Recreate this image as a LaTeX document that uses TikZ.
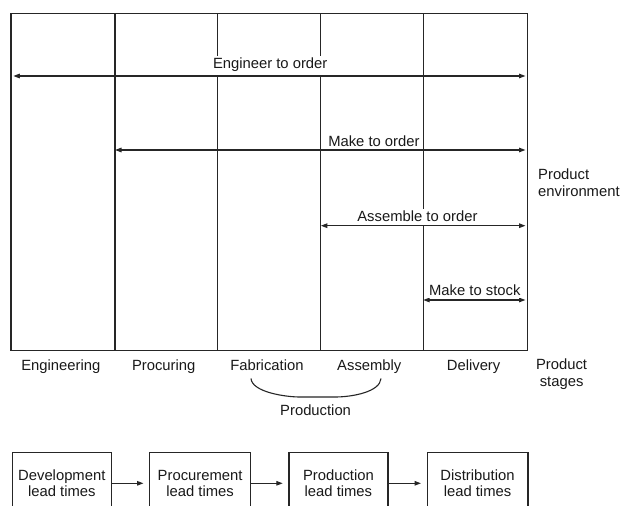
\documentclass[tikz,border=0pt]{standalone}
\usepackage{fontspec}
\setmainfont{Liberation Sans}
\usetikzlibrary{arrows.meta}
\begin{document}
\begin{tikzpicture}[x=1bp,y=-1bp,
  frame/.style={draw=black!85, line width=1.2bp},
  tip/.tip={Triangle[length=6.5bp,width=4.5bp]},
  span/.style={draw=black!85, line width=1.3bp, tip-tip},
  lbl/.style={font=\fontsize{14.8bp}{16.6bp}\selectfont, text=black!90, inner sep=0pt},
  spanlbl/.style={lbl, fill=white, inner xsep=1.5bp, inner ysep=2.5bp, anchor=base},
  stagelbl/.style={lbl, anchor=base},
  ltbox/.style={draw=black!85, line width=1.2bp, lbl, minimum height=62bp,
                align=center, anchor=north west},
  flow/.style={draw=black!85, line width=1.2bp, -tip, shorten >=5.5bp}]
\clip (0,0) rectangle (624,506);
\fill[white] (0,0) rectangle (624,506);

% stage columns
\foreach \n/\x in {0/11,1/115,2/217.3,3/320.8,4/423.2,5/527.3} {
  \coordinate (t\n) at (\x,13.5);
  \coordinate (b\n) at (\x,350.7);
}
\draw[frame] (t0) rectangle (b5);
\foreach \n in {1,...,4} \draw[frame] (t\n) -- (b\n);

% product environments
\coordinate (eto-a) at (13.3,76);   \coordinate (eto-b) at (525.5,76);
\coordinate (mto-a) at (115,150);   \coordinate (mto-b) at (525.5,150);
\coordinate (ato-a) at (320.8,225.7); \coordinate (ato-b) at (525.5,225.7);
\coordinate (mts-a) at (423.2,300); \coordinate (mts-b) at (525.5,300);
\draw[span] (eto-a) -- (eto-b);
\draw[span] (mto-a) -- (mto-b);
\draw[span] (ato-a) -- (ato-b);
\draw[span] (mts-a) -- (mts-b);
\node[spanlbl] (eto) at (270.2,69) {Engineer to order};
\node[spanlbl] (mto) at (373.9,146.5) {Make to order};
\node[spanlbl] (ato) at (417.4,222) {Assemble to order};
\node[spanlbl] (mts) at (474.8,295) {Make to stock};
\node[lbl, align=left, anchor=west] (env) at (538,182.8) {Product\\environment};

% product stages
\node[stagelbl] (s1) at (60.8,370) {Engineering};
\node[stagelbl] (s2) at (163.7,370) {Procuring};
\node[stagelbl] (s3) at (266.9,370) {Fabrication};
\node[stagelbl] (s4) at (369.3,370) {Assembly};
\node[stagelbl] (s5) at (473.6,370) {Delivery};
\node[lbl, align=center] (stg) at (561.6,374) {Product\\stages};

% production brace
\coordinate (brL) at (251,378.5);
\coordinate (brR) at (381,378.5);
\draw[frame, line width=1.1bp] (brL) .. controls (252,392) and (285,397) .. (300,397)
  -- (335,397) .. controls (352,397) and (380,392) .. (brR);
\node[stagelbl] (prod) at (315.6,415) {Production};

% lead times
\node[ltbox, minimum width=99bp]  (dev)  at (11.7,451.7)  {Development\\lead times};
\node[ltbox, minimum width=101bp] (proc) at (149,451.7)   {Procurement\\lead times};
\node[ltbox, minimum width=99bp]  (pro)  at (288.3,451.7) {Production\\lead times};
\node[ltbox, minimum width=100.8bp] (dis) at (426.5,451.7) {Distribution\\lead times};
\draw[flow] (dev) -- (proc);
\draw[flow] (proc) -- (pro);
\draw[flow] (pro) -- (dis);
\end{tikzpicture}
\end{document}
